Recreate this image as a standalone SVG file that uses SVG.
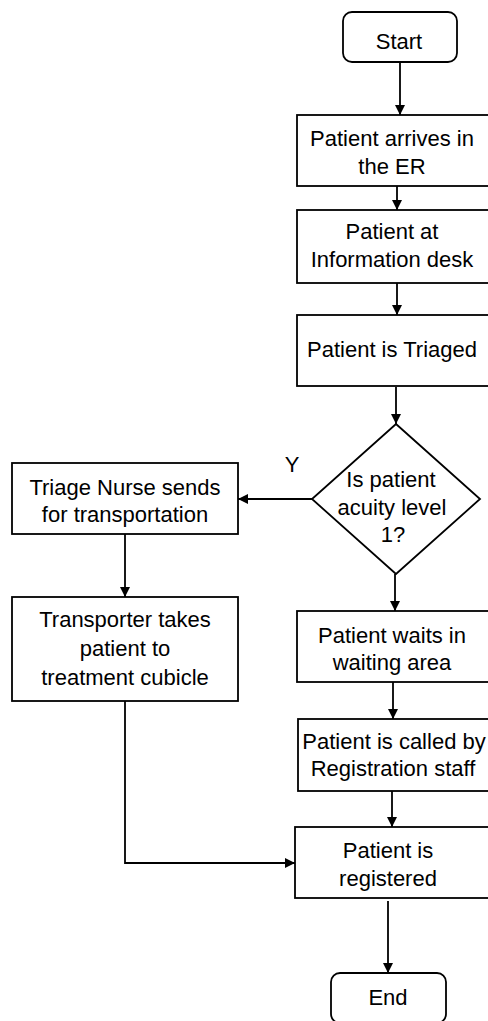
<svg xmlns="http://www.w3.org/2000/svg" width="488" height="1021" viewBox="0 0 488 1021">
  <style>
    .shape { fill: #ffffff; stroke: #000000; stroke-width: 1.8; }
    .label { font-family: "Liberation Sans", Arial, sans-serif; font-size: 22px; fill: #000000; text-anchor: middle; }
    .wire { fill: none; stroke: #000000; stroke-width: 1.8; }
  </style>
  <defs>
    <marker id="arrow" viewBox="0 0 10 10" refX="10" refY="5" markerWidth="10" markerHeight="10" markerUnits="userSpaceOnUse" orient="auto">
      <path d="M0,0 L10,5 L0,10 Z" fill="#000000"/>
    </marker>
  </defs>
  <rect width="488" height="1021" fill="#ffffff"/>

  <g id="connectors">
    <path class="wire" d="M400,62 V115" marker-end="url(#arrow)"/>
    <path class="wire" d="M397,186 V210" marker-end="url(#arrow)"/>
    <path class="wire" d="M397,283 V315" marker-end="url(#arrow)"/>
    <path class="wire" d="M396,387 V424" marker-end="url(#arrow)"/>
    <path class="wire" d="M312,499 H238" marker-end="url(#arrow)"/>
    <path class="wire" d="M395,574 V611" marker-end="url(#arrow)"/>
    <path class="wire" d="M125,534 V597" marker-end="url(#arrow)"/>
    <path class="wire" d="M393,682 V719" marker-end="url(#arrow)"/>
    <path class="wire" d="M392,791 V827" marker-end="url(#arrow)"/>
    <path class="wire" d="M125,701 V863 H295" marker-end="url(#arrow)"/>
    <path class="wire" d="M388,901 V973" marker-end="url(#arrow)"/>
    <text class="label" x="292" y="472">Y</text>
  </g>

  <g id="start">
    <rect class="shape" x="343" y="12" width="114" height="50" rx="9"/>
    <text class="label" x="399" y="49">Start</text>
  </g>

  <g id="arrives">
    <rect class="shape" x="297" y="115" width="195" height="71"/>
    <text class="label" x="392" y="146">Patient arrives in</text>
    <text class="label" x="392" y="174">the ER</text>
  </g>

  <g id="info-desk">
    <rect class="shape" x="297" y="210" width="195" height="73"/>
    <text class="label" x="392" y="239">Patient at</text>
    <text class="label" x="392" y="267">Information desk</text>
  </g>

  <g id="triaged">
    <rect class="shape" x="297" y="315" width="195" height="71"/>
    <text class="label" x="392" y="357">Patient is Triaged</text>
  </g>

  <g id="acuity">
    <polygon class="shape" points="396,424 480,499 396,574 312,499"/>
    <text class="label" x="391" y="487">Is patient</text>
    <text class="label" x="392" y="515">acuity level</text>
    <text class="label" x="393" y="542">1?</text>
  </g>

  <g id="nurse">
    <rect class="shape" x="12" y="463" width="226" height="71"/>
    <text class="label" x="125" y="495">Triage Nurse sends</text>
    <text class="label" x="125" y="522">for transportation</text>
  </g>

  <g id="transporter">
    <rect class="shape" x="12" y="597" width="226" height="104"/>
    <text class="label" x="125" y="627">Transporter takes</text>
    <text class="label" x="125" y="656">patient to</text>
    <text class="label" x="125" y="685">treatment cubicle</text>
  </g>

  <g id="waits">
    <rect class="shape" x="297" y="611" width="195" height="71"/>
    <text class="label" x="392" y="643">Patient waits in</text>
    <text class="label" x="392" y="670">waiting area</text>
  </g>

  <g id="called">
    <rect class="shape" x="298" y="719" width="194" height="72"/>
    <text class="label" x="394" y="749">Patient is called by</text>
    <text class="label" x="393" y="776">Registration staff</text>
  </g>

  <g id="registered">
    <rect class="shape" x="295" y="827" width="197" height="71"/>
    <text class="label" x="388" y="858">Patient is</text>
    <text class="label" x="388" y="886">registered</text>
  </g>

  <g id="end">
    <rect class="shape" x="331" y="973" width="115" height="50" rx="9"/>
    <text class="label" x="388" y="1005">End</text>
  </g>
</svg>
